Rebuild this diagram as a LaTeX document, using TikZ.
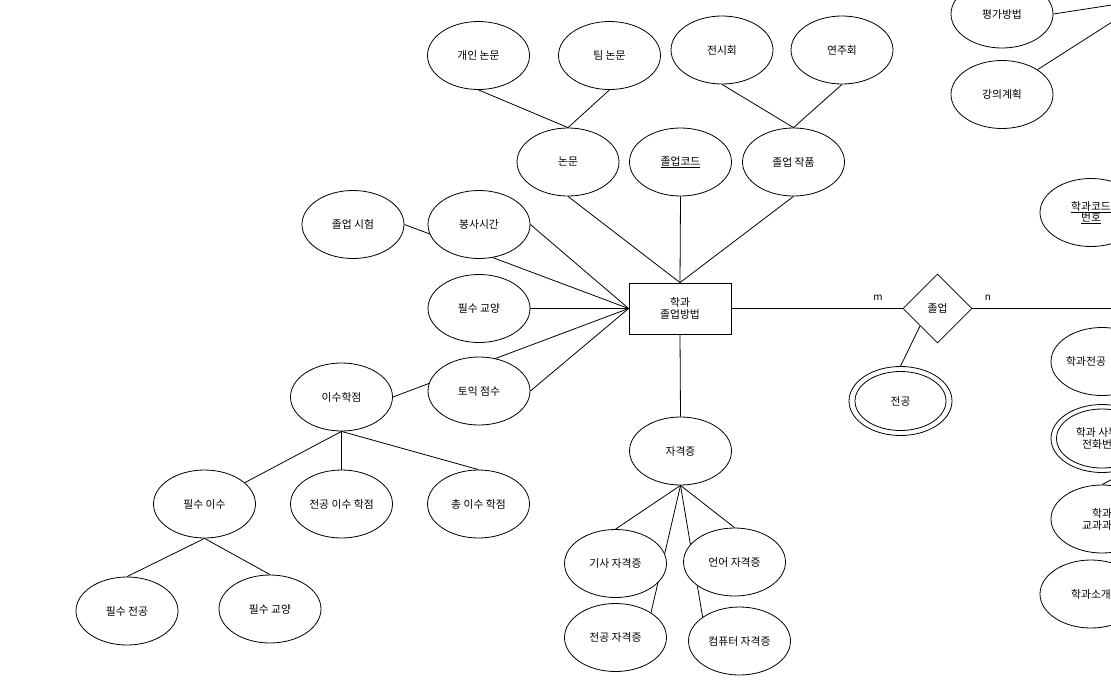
\documentclass[tikz,border=0pt]{standalone}
\usepackage{fontspec}
\setmainfont{Noto Sans CJK KR}
\usetikzlibrary{shapes.geometric,backgrounds}
\tikzset{
  txt/.style={font=\fontsize{10.8}{12}\selectfont},
  attr/.style={ellipse,draw,fill=white,line width=0.8pt,minimum width=102pt,minimum height=68pt,inner sep=0pt,align=center,txt},
  ent/.style={rectangle,draw,fill=white,line width=0.8pt,minimum width=102pt,minimum height=51pt,inner sep=0pt,align=center,txt},
  rel/.style={diamond,draw,fill=white,line width=0.8pt,minimum width=69pt,minimum height=69pt,inner sep=0pt,txt},
  lbl/.style={inner sep=0pt,font=\fontsize{10}{11}\selectfont},
  conn/.style={line width=0.8pt},
}
\begin{document}
\begin{tikzpicture}[x=1pt,y=-1pt]
\useasboundingbox (0,0) rectangle (1111,683);
\clip (0,0) rectangle (1111,683);
% top
\node[attr] (gaein) at (478.5,55.5) {개인 논문};
\node[attr] (tim) at (609.5,55.5) {팀 논문};
\node[attr] (jeonsi) at (722,50) {전시회};
\node[attr] (yeonju) at (842,50) {연주회};
\node[attr] (nonmun) at (568,162) {논문};
\node[attr] (jolcode) at (680.5,162) {\underline{졸업코드}};
\node[attr] (jakpum) at (793.5,162) {졸업 작품};
% center entity
\node[ent] (main) at (680,308.5) {학과\\졸업방법};
% left
\node[attr] (jolsi) at (353,224.5) {졸업 시험};
\node[attr] (bongsa) at (479,224.5) {봉사시간};
\node[attr] (pilgyo) at (479,308.5) {필수 교양};
\node[attr] (toeic) at (479,391) {토익 점수};
\node[attr] (isu) at (341.5,397) {이수학점};
\node[attr] (pilisu) at (204.5,504) {필수 이수};
\node[attr] (jeonisu) at (341.5,504) {전공 이수 학점};
\node[attr] (chongisu) at (478.5,504) {총 이수 학점};
\node[attr] (piljeon) at (127,611) {필수 전공};
\node[attr] (pilgyob) at (270,609) {필수 교양};
% bottom
\node[attr] (jagyeok) at (680.5,451) {자격증};
\node[attr] (gisa) at (615.5,563.5) {기사 자격증};
\node[attr] (eoneo) at (734.5,562) {언어 자격증};
\node[attr] (jeongongj) at (615.5,637.5) {전공 자격증};
\node[attr] (computer) at (739.5,641) {컴퓨터 자격증};
% relation
\node[rel] (jol) at (937.5,308.5) {졸업};
\node[attr,minimum width=103pt,minimum height=69pt] (jeongong) at (900.5,401) {};
\draw[line width=0.8pt] (jeongong.center) ellipse [x radius=45.5, y radius=29.5];
\node[inner sep=0pt,txt] at (jeongong.center) {전공};
\node[lbl] (mlab) at (878,298) {m};
\node[lbl] (nlab) at (988,298) {n};
% right (partly outside)
\node[attr] (pyeongga) at (1002,14) {평가방법};
\node[attr] (gangui) at (1002,94.5) {강의계획};
\node[attr] (hakcode) at (1091,212.5) {\underline{학과코드}\\[-1pt]\underline{번호}};
\node[attr] (hakjeon) at (1102,361.5) {};
\node[inner sep=0pt,anchor=west,txt] (hakjeontxt) at (1066,361.5) {학과전공};
\node[attr] (hakphone) at (1102,438.5) {};
\draw[line width=0.8pt] (hakphone.center) ellipse [x radius=45.5, y radius=29.5];
\node[inner sep=0pt,align=center,txt] at (hakphone.center) {학과 사무실\\전화번호};
\node[attr] (hakgyo) at (1102,519) {학과\\교과과정};
\node[attr] (hakso) at (1091,594) {학과소개};
\coordinate (offA) at (1170,-4);
\coordinate (offB) at (1170,-15);
\coordinate (offC) at (1170,308.5);
\coordinate (offD) at (1170,449);
\begin{scope}[on background layer]
\clip (0,0) rectangle (1111,683);
\fill[white] (0,0) rectangle (1111,683);
\draw[conn] (gaein.south) -- (nonmun.north);
\draw[conn] (tim.south) -- (nonmun.north);
\draw[conn] (jeonsi.south) -- (jakpum.north);
\draw[conn] (yeonju.south) -- (jakpum.north);
\draw[conn] (nonmun.south) -- (main.north);
\draw[conn] (jolcode.south) -- (main.north);
\draw[conn] (jakpum.south) -- (main.north);
\draw[conn] (jolsi.east) -- (main.west);
\draw[conn] (bongsa.east) -- (main.west);
\draw[conn] (pilgyo.east) -- (main.west);
\draw[conn] (toeic.east) -- (main.west);
\draw[conn] (isu.east) -- (main.west);
\draw[conn] (isu.south) -- (pilisu);
\draw[conn] (isu.south) -- (jeonisu.north);
\draw[conn] (isu.south) -- (chongisu.north);
\draw[conn] (pilisu.south) -- (piljeon.north);
\draw[conn] (pilisu.south) -- (pilgyob.north);
\draw[conn] (main.south) -- (jagyeok.north);
\draw[conn] (jagyeok.south) -- (gisa.north);
\draw[conn] (jagyeok.south) -- (jeongongj.35);
\draw[conn] (jagyeok.south) -- (eoneo.north);
\draw[conn] (jagyeok.south) -- (computer.147);
\draw[conn] (main.east) -- (jol.west);
\draw[conn] (jol.east) -- (offC);
\draw[conn] (jol.south west) -- (jeongong.north);
\draw[conn] (pyeongga.east) -- (offA);
\draw[conn] (gangui.35) -- (offB);
\draw[conn] (hakgyo.north) -- (offD);
\end{scope}
\end{tikzpicture}
\end{document}
